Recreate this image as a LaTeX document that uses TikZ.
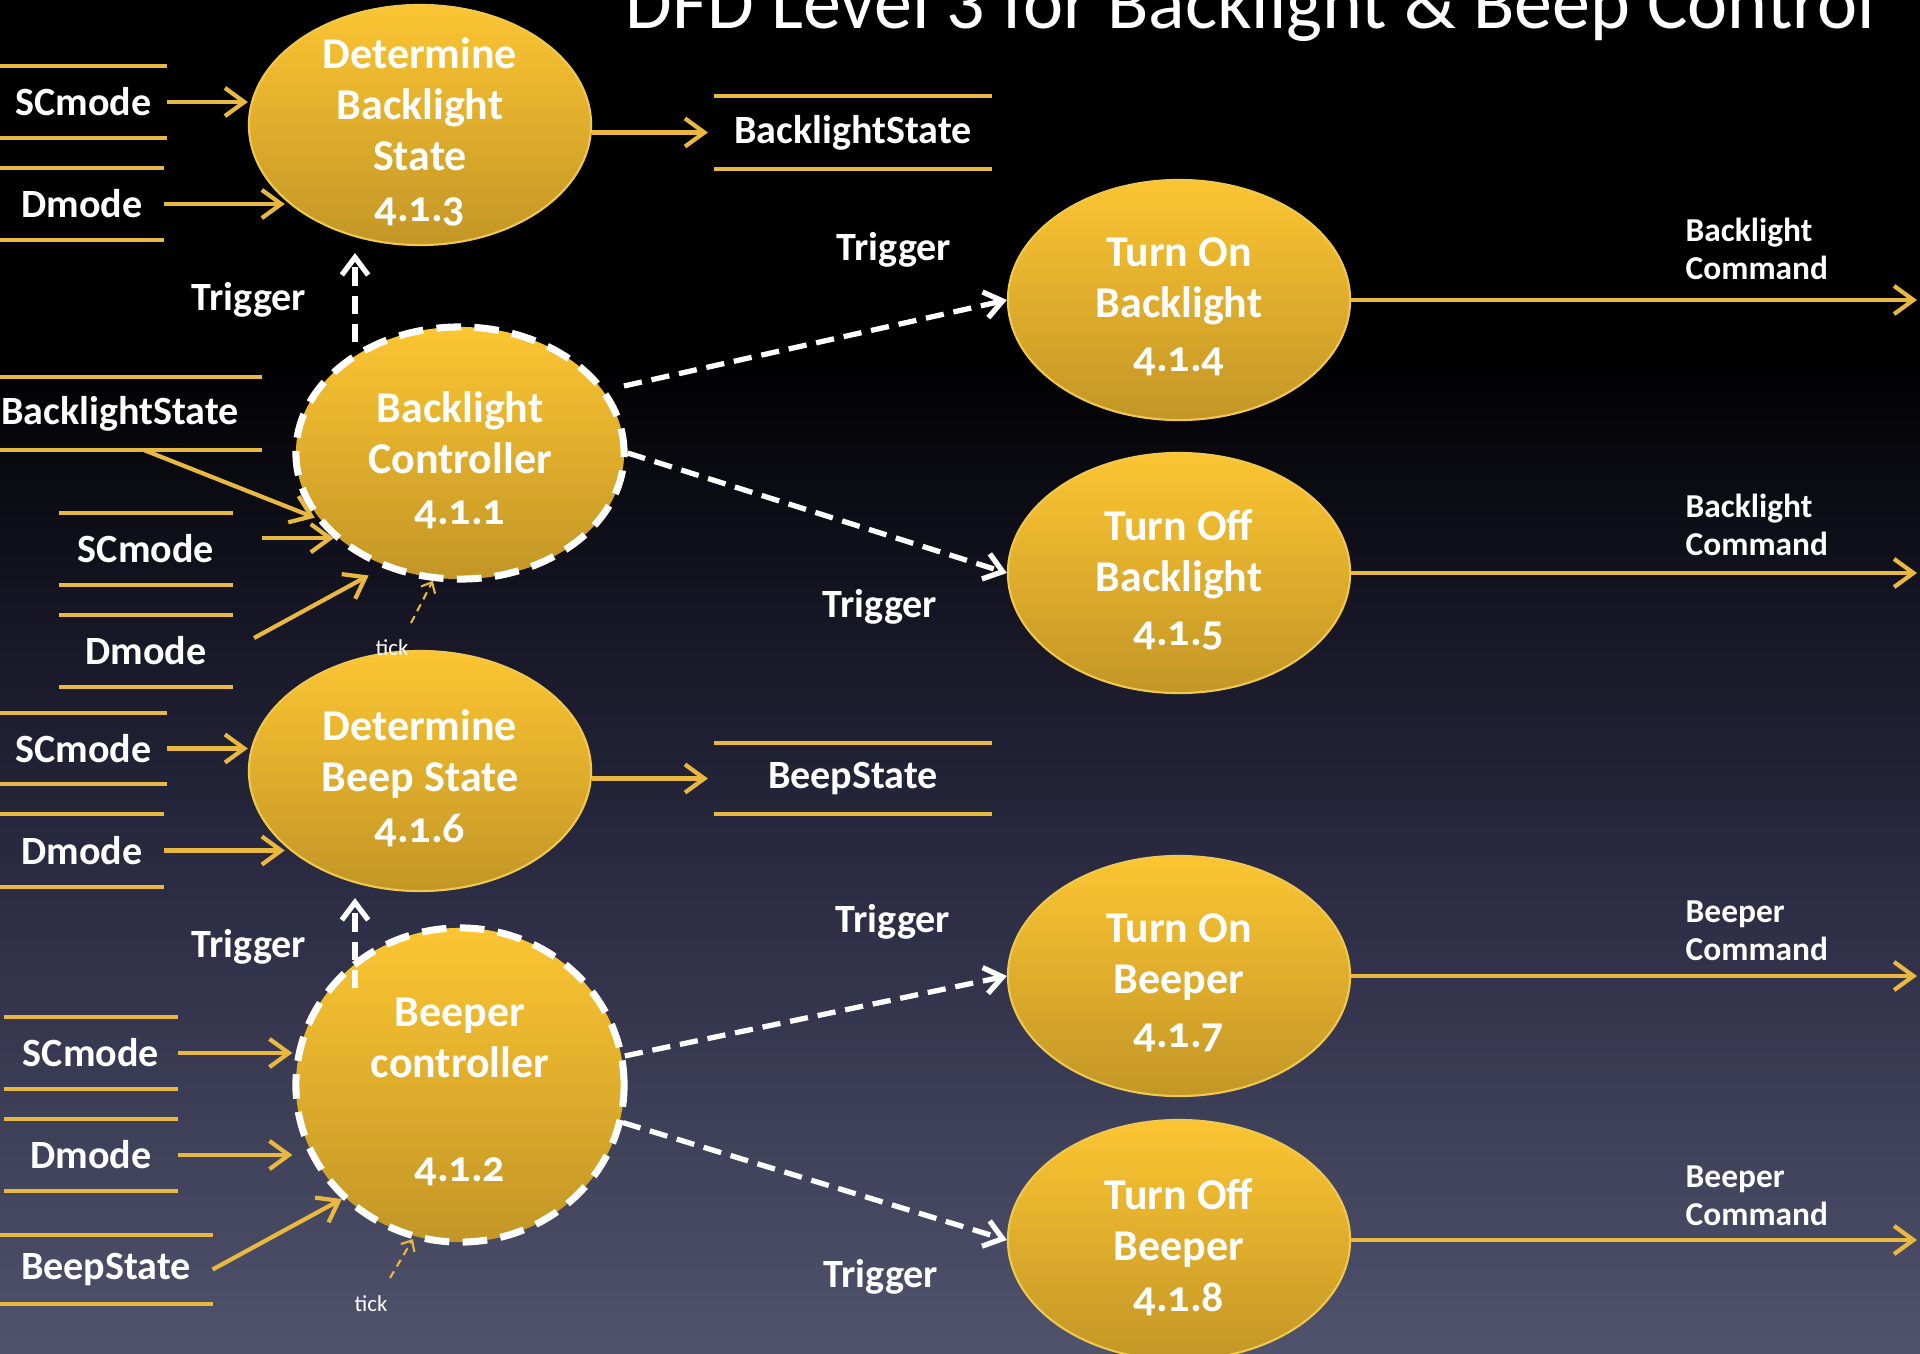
\documentclass[tikz,border=0pt]{standalone}
\usepackage{fontspec}
\usepackage{graphicx}
\setmainfont{Carlito}
\usetikzlibrary{arrows.meta,calc,shapes.geometric}
\definecolor{bgA}{RGB}{80,83,108}
\definecolor{bgB}{RGB}{44,44,68}
\definecolor{bgC}{RGB}{20,20,34}
\definecolor{gold}{RGB}{232,184,64}
\definecolor{ptop}{RGB}{251,197,50}
\definecolor{pbot}{RGB}{195,150,38}
\definecolor{pedge}{RGB}{240,200,80}
\pgfdeclareverticalshading{bgshade}{100bp}{color(0bp)=(bgA); color(25bp)=(bgA); color(42bp)=(bgB); color(53bp)=(bgC); color(62bp)=(black); color(100bp)=(black)}
\newcommand\oldnum{\addfontfeatures{Numbers=OldStyle}}
\newcommand\storelines[1]{\draw[sline] (#1.north west) -- (#1.north east) (#1.south west) -- (#1.south east);}
\tikzset{
  proc/.style={ellipse, minimum width=3.42cm, minimum height=2.40cm, inner sep=0pt,
    top color=ptop, bottom color=pbot, draw=pedge, line width=0.6pt},
  ctrl/.style={proc, minimum width=3.28cm, draw=white, line width=2pt, dash pattern=on 7pt off 3.8pt},
  ptxt/.style={text=white, align=center, inner sep=0pt, yshift=-0.07cm, font=\bfseries\fontsize{12.5}{14.5}\selectfont},
  store/.style={inner sep=0pt, outer sep=0pt, text=white, font=\bfseries\fontsize{11.4}{13}\selectfont},
  sline/.style={draw=gold, line width=1.2pt},
  flow/.style={draw=gold, line width=1.2pt, -{Straight Barb[length=5.5pt,width=8pt]}},
  trig/.style={draw=white, line width=1.5pt, dash pattern=on 5.2pt off 2.8pt, -{Straight Barb[length=5pt,width=7.5pt]}},
  lbl/.style={text=white, inner sep=0pt, font=\bfseries\fontsize{11.4}{13}\selectfont},
  cmd/.style={text=white, align=left, anchor=west, inner sep=0pt, font=\bfseries\fontsize{9.5}{10.8}\selectfont},
  ticklbl/.style={text=white, inner sep=0pt, font=\fontsize{6.5}{7}\selectfont},
  tickarr/.style={draw=gold, line width=0.6pt, dash pattern=on 2.2pt off 1.6pt, -{Straight Barb[length=2.5pt,width=4.5pt]}}
}
\begin{document}
\begin{tikzpicture}[x=0.01cm,y=-0.01cm]
\useasboundingbox (0,0) rectangle (1920,1354);
\clip (0,0) rectangle (1920,1354);
\shade[shading=bgshade] (0,0) rectangle (1920,1354);

% title
\node[anchor=base west, inner sep=0pt, text=white] (title) at (625,28)
  {\resizebox{12.49cm}{!}{\fontsize{20}{24}\selectfont DFD Level 3 for Backlight \& Beep Control}};

% processes
\node[proc] (p1) at (420,125) {};
\node[ptxt] (p1t) at (p1) {Determine\\Backlight\\State\\\oldnum 4.1.3};
\node[ctrl, minimum height=2.52cm] (p2) at (460,453) {};
\node[ptxt] (p2t) at (p2) {Backlight\\Controller\\\oldnum 4.1.1};
\node[proc] (p3) at (1179,300) {};
\node[ptxt] (p3t) at (p3) {Turn On\\Backlight\\[1pt]\oldnum 4.1.4};
\node[proc] (p4) at (1179,573) {};
\node[ptxt] (p4t) at (p4) {Turn Off\\Backlight\\[1pt]\oldnum 4.1.5};
\node[proc] (p5) at (420,771) {};
\node[ptxt] (p5t) at (p5) {Determine\\Beep State\\\oldnum 4.1.6};
\node[ctrl, minimum height=3.14cm] (p6) at (460,1085) {};
\node[ptxt] (p6t) at (p6) {Beeper\\controller\\[15pt]\oldnum 4.1.2};
\node[proc] (p7) at (1179,976) {};
\node[ptxt] (p7t) at (p7) {Turn On\\Beeper\\[1pt]\oldnum 4.1.7};
\node[proc] (p8) at (1179,1240) {};
\node[ptxt] (p8t) at (p8) {Turn Off\\Beeper\\\oldnum 4.1.8};

% data stores
\node[store, minimum width=1.67cm, minimum height=0.72cm] (s1) at (83.5,102) {SCmode};
\node[store, minimum width=1.64cm, minimum height=0.72cm] (s2) at (82,204) {Dmode};
\node[store, minimum width=2.78cm, minimum height=0.73cm] (s3) at (853,132.5) {BacklightState};
\node[store, minimum width=2.40cm, minimum height=0.73cm] (s4) at (120,413.5) {BacklightState};
\node[store, minimum width=1.74cm, minimum height=0.72cm] (s5) at (146,549) {SCmode};
\node[store, minimum width=1.74cm, minimum height=0.72cm] (s6) at (146,651) {Dmode};
\node[store, minimum width=1.67cm, minimum height=0.71cm] (s7) at (83.5,748.5) {SCmode};
\node[store, minimum width=1.64cm, minimum height=0.73cm] (s8) at (82,850.5) {Dmode};
\node[store, minimum width=2.78cm, minimum height=0.71cm] (s9) at (853,778.5) {BeepState};
\node[store, minimum width=1.74cm, minimum height=0.72cm] (s10) at (91,1053) {SCmode};
\node[store, minimum width=1.74cm, minimum height=0.72cm] (s11) at (91,1155) {Dmode};
\node[store, minimum width=2.13cm, minimum height=0.69cm] (s12) at (106,1269.5) {BeepState};
\storelines{s1}\storelines{s2}\storelines{s3}
\draw[sline] (s4.north west) -- ($(s4.north east)+(22,0)$) (s4.south west) -- ($(s4.south east)+(22,0)$);
\storelines{s5}\storelines{s6}\storelines{s7}\storelines{s8}
\storelines{s9}\storelines{s10}\storelines{s11}\storelines{s12}

% labels
\node[lbl] (tg1) at (249,300) {Trigger};
\node[lbl] (tg2) at (894,250) {Trigger};
\node[lbl] (tg3) at (880,607) {Trigger};
\node[lbl] (tg4) at (249,947) {Trigger};
\node[lbl] (tg5) at (893,922) {Trigger};
\node[lbl] (tg6) at (881,1277) {Trigger};
\node[cmd] (c3) at (1685,249) {Backlight\\Command};
\node[cmd] (c4) at (1685,525) {Backlight\\Command};
\node[cmd] (c7) at (1685,931) {Beeper\\Command};
\node[cmd] (c8) at (1685,1196) {Beeper\\Command};
\node[ticklbl] (tk1) at (392,648) {tick};
\node[ticklbl] (tk2) at (371,1304) {tick};
\coordinate (tk1s) at (411,623);
\coordinate (tk2s) at (390,1278);
\coordinate (rx) at (1917,0);

% data flows
\draw[flow] (s1.east) -- (s1.east -| p1.west);
\draw[flow] (s2.east) -- (s2.east -| p1.209);
\draw[flow] (s3.west -| p1.east) -- ($(s3.west)+(-6,0)$);
\draw[flow] ($(s4.south west)+(144,0)$) -- (p2.204);
\draw[flow] ($(s5.east |- p2.214)+(29,0)$) -- (p2.214);
\draw[flow, shorten >=4.5pt] ($(s6.east)+(21,-13)$) -- (p2.236);
\draw[flow] (s7.east) -- (s7.east -| p5.west);
\draw[flow] (s8.east) -- (s8.east -| p5.209);
\draw[flow] (s9.west -| p5.east) -- ($(s9.west)+(-6,0)$);
\draw[flow] (s10.east) -- (s10.east -| p6.west);
\draw[flow] (s11.east) -- (s11.east -| p6.west);
\draw[flow] (s12.east) -- (p6.224);
\draw[flow] (p3.east) -- (p3.east -| rx);
\draw[flow] (p4.east) -- (p4.east -| rx);
\draw[flow] (p7.east) -- (p7.east -| rx);
\draw[flow] (p8.east) -- (p8.east -| rx);

% tick
\draw[tickarr] (tk1s) -- (p2.258);
\draw[tickarr] (tk2s) -- (p6.253);

% triggers
\draw[trig] ($(p2.center)+(-105,-111)$) -- ($(p1.center)+(-65,128)$);
\draw[trig] ($(p6.center)+(-105,-97)$) -- ($(p5.center)+(-65,127)$);
\draw[trig] ($(p2.center)+(164,-67)$) -- (p3.west);
\draw[trig] (p2.east) -- (p4.west);
\draw[trig] (p6.10) -- (p7.west);
\draw[trig] (p6.-13) -- (p8.west);
\end{tikzpicture}
\end{document}
